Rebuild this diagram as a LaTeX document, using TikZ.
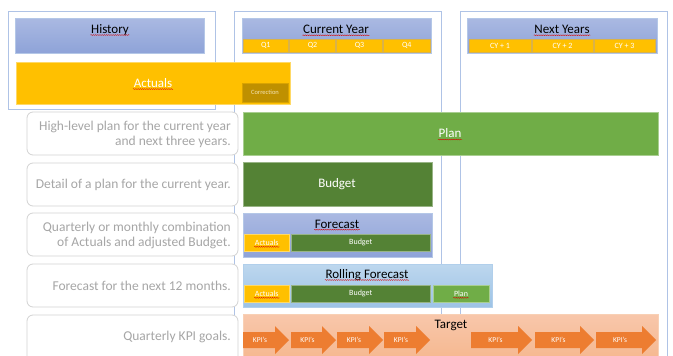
\documentclass[tikz,border=0pt]{standalone}
\usepackage{fontspec}
\setmainfont{Carlito}
\usetikzlibrary{decorations.pathmorphing}
\definecolor{hdrtop}{HTML}{AAB9E2}
\definecolor{hdrbot}{HTML}{8EA3D8}
\definecolor{hdrline}{HTML}{B4C7E7}
\definecolor{outerline}{HTML}{AFC3E6}
\definecolor{gold}{HTML}{FFC000}
\definecolor{goldline}{HTML}{D9B24A}
\definecolor{darkgold}{HTML}{BF9000}
\definecolor{corrtext}{HTML}{F3E4B5}
\definecolor{plangreen}{HTML}{70AD47}
\definecolor{budgreen}{HTML}{548235}
\definecolor{rftop}{HTML}{BDD7EE}
\definecolor{rfbot}{HTML}{9DC3E6}
\definecolor{tgtop}{HTML}{F8C7AB}
\definecolor{tgbot}{HTML}{F4B183}
\definecolor{kpicol}{HTML}{ED7D31}
\definecolor{desctext}{HTML}{A6A6A6}
\definecolor{descline}{HTML}{D3D3D3}
\newcommand\boxat[6]{%
  \node[#1, inner sep=0pt, minimum width={(#5-#3)*1pt}, minimum height={(#6-#4)*1pt}] (#2) at ({(#3+#5)/2},{(#4+#6)/2}) {};}
\newcommand\kpiarrow[3]{%
  \fill[kpicol] (#2,332) -- ({#3-14},332) -- ({#3-14},326) -- (#3,340) -- ({#3-14},354) -- ({#3-14},348) -- (#2,348) -- cycle;
  \node[kpitext] (#1) at ({(#2+#3-12)/2},340) {KPI’s};}
\newcommand\squig[1]{%
  \draw[spell] ([yshift=-1.6pt]#1.base west) -- ([yshift=-1.6pt]#1.base east);}
\tikzset{
  outerbox/.style={draw=outerline, line width=0.8pt},
  hdr/.style={top color=hdrtop, bottom color=hdrbot, draw=hdrline, line width=0.6pt},
  rfhdr/.style={top color=rftop, bottom color=rfbot, draw=rfbot!80!white, line width=0.6pt},
  tgbox/.style={top color=tgtop, bottom color=tgbot, draw=tgbot!60!white, line width=0.6pt},
  goldcell/.style={fill=gold, draw=goldline, line width=0.5pt},
  goldbar/.style={fill=gold, draw=gold!60!white, line width=0.6pt},
  corrbox/.style={fill=darkgold, draw=darkgold!60!gold, line width=0.5pt},
  planbar/.style={fill=plangreen, draw=plangreen!60!white, line width=0.6pt},
  budbar/.style={fill=budgreen, draw=budgreen!60!white, line width=0.6pt},
  descbox/.style={draw=descline, fill=white, rounded corners=6pt, line width=0.8pt},
  desc/.style={text=desctext, font=\fontsize{13.5}{15}\selectfont, align=right, anchor=east, inner sep=0pt},
  title/.style={font=\fontsize{13}{15}\selectfont, text=black, inner sep=0.5pt},
  wtitle/.style={font=\fontsize{13}{15}\selectfont, text=white, inner sep=0.5pt},
  small/.style={font=\fontsize{8}{9}\selectfont, text=white, inner sep=0.5pt},
  tiny/.style={font=\fontsize{6.5}{7}\selectfont, text=white, inner sep=0.5pt},
  kpitext/.style={font=\fontsize{7.5}{8}\selectfont, text=white, inner sep=0pt},
  spell/.style={draw=red!85!black, line width=0.35pt, decorate,
    decoration={snake, amplitude=0.45pt, segment length=2.2pt}},
}
\begin{document}
\begin{tikzpicture}[x=1pt, y=-1pt]
\useasboundingbox (0,0) rectangle (673,356);
\fill[white] (0,0) rectangle (673,356);
% outer column frames
\boxat{outerbox}{histframe}{8}{11}{215}{109}
\boxat{outerbox}{cyframe}{234}{11}{441}{380}
\boxat{outerbox}{nyframe}{460}{11}{667}{380}
% headers
\boxat{hdr}{histhdr}{15}{18}{204}{53}
\node[title] (histlbl) at (110,30) {History};
\boxat{hdr}{cyhdr}{242}{18}{431}{53}
\node[title] (cylbl) at (336,29.5) {Current Year};
\boxat{goldcell}{q1}{243}{39}{288.5}{52}
\boxat{goldcell}{q2}{289.5}{39}{335.5}{52}
\boxat{goldcell}{q3}{336.5}{39}{382.5}{52}
\boxat{goldcell}{q4}{383.5}{39}{430}{52}
\node[small] at (q1) {Q1};
\node[small] at (q2) {Q2};
\node[small] at (q3) {Q3};
\node[small] at (q4) {Q4};
\boxat{hdr}{nyhdr}{467}{18}{657}{53}
\node[title] (nylbl) at (562,29.5) {Next Years};
\boxat{goldcell}{cy1}{469}{39}{531}{52}
\boxat{goldcell}{cy2}{532}{39}{593}{52}
\boxat{goldcell}{cy3}{594}{39}{655}{52}
\node[small] at (cy1) {CY + 1};
\node[small] at (cy2) {CY + 2};
\node[small] at (cy3) {CY + 3};
% actuals bar
\boxat{goldbar}{actbar}{16}{62}{290}{104}
\node[wtitle] (actlbl) at (153,83) {Actuals};
\boxat{corrbox}{corr}{242}{83}{288}{102}
\node[tiny, text=corrtext] at (corr) {Correction};
% description boxes
\boxat{descbox}{d1}{27}{112}{238}{155}
\boxat{descbox}{d2}{27}{163}{238}{206}
\boxat{descbox}{d3}{27}{213}{238}{256}
\boxat{descbox}{d4}{27}{264}{238}{307}
\boxat{descbox}{d5}{27}{315}{238}{380}
\node[desc] (t1) at (231,134.5) {High-level plan for the current year\\and next three years.};
\node[desc] (t2) at (231,184.5) {Detail of a plan for the current year.};
\node[desc] (t3) at (231,235) {Quarterly or monthly combination\\of Actuals and adjusted Budget.};
\node[desc] (t4) at (231,286) {Forecast for the next 12 months.};
\node[desc] (t5) at (231,337) {Quarterly KPI goals.};
% plan & budget
\boxat{planbar}{plan}{243}{112}{658}{155}
\node[wtitle] (planlbl) at (450,133.5) {Plan};
\boxat{budbar}{budget}{243}{162}{432}{206}
\node[wtitle] (budlbl) at (337,184) {Budget};
% forecast
\boxat{hdr}{fc}{243}{213}{432}{257}
\node[title] (fclbl) at (337,224) {Forecast};
\boxat{goldbar}{fcact}{244}{234}{289.5}{251}
\boxat{budbar}{fcbud}{291}{234}{430.5}{251}
\node[small] (fcactlbl) at (fcact) {Actuals};
\node[small] at (fcbud) {Budget};
% rolling forecast
\boxat{rfhdr}{rf}{243}{264}{492}{307}
\node[title] (rflbl) at (367,275) {Rolling Forecast};
\boxat{goldbar}{rfact}{244}{285}{289.5}{302}
\boxat{budbar}{rfbud}{291}{285}{430.5}{302}
\boxat{planbar}{rfplan}{433}{285}{489}{302}
\node[small] (rfactlbl) at (rfact) {Actuals};
\node[small] at (rfbud) {Budget};
\node[small] (rfplanlbl) at (rfplan) {Plan};
% target
\boxat{tgbox}{target}{243}{314}{658}{380}
\node[title] (tglbl) at (451,325.5) {Target};
\kpiarrow{k1}{243}{289}
\kpiarrow{k2}{291}{336}
\kpiarrow{k3}{337}{383}
\kpiarrow{k4}{384}{430}
\kpiarrow{k5}{471}{532}
\kpiarrow{k6}{535}{594}
\kpiarrow{k7}{596}{656}
% spell-check underlines
\squig{histlbl}
\squig{cylbl}
\squig{nylbl}
\squig{actlbl}
\squig{planlbl}
\squig{fclbl}
\squig{rflbl}
\squig{fcactlbl}
\squig{rfactlbl}
\squig{rfplanlbl}
\end{tikzpicture}
\end{document}
